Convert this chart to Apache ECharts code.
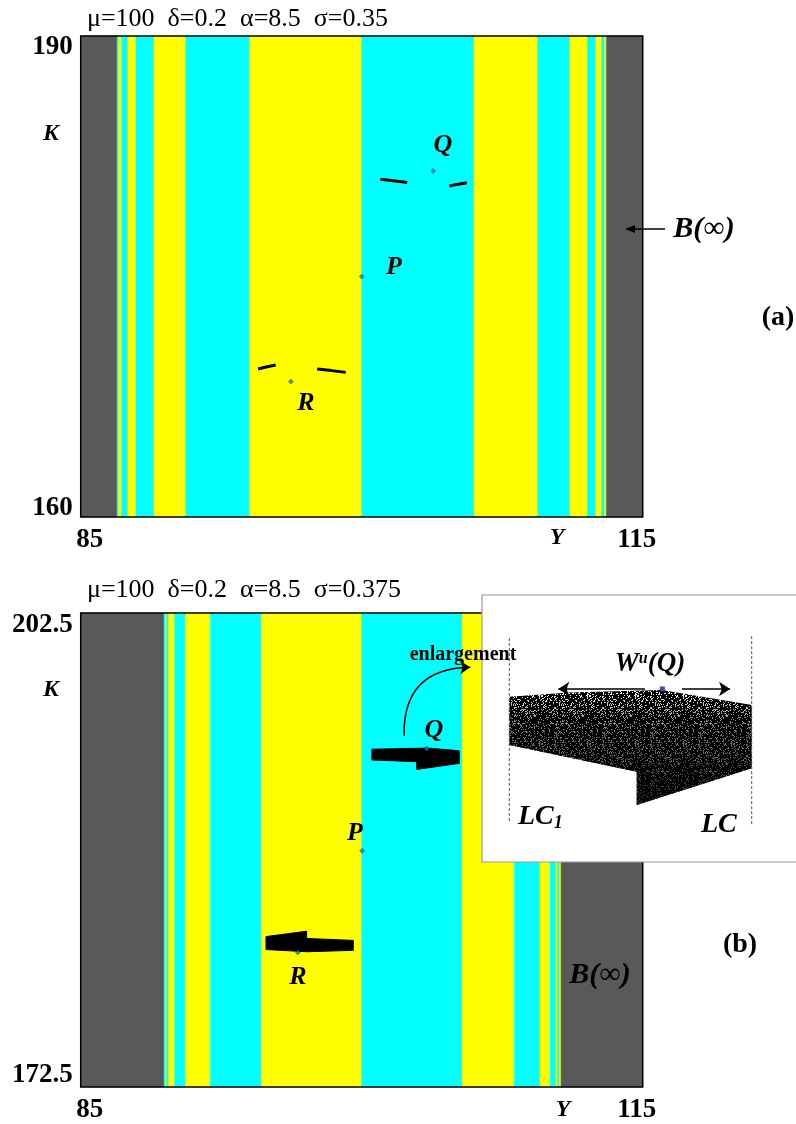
<!DOCTYPE html>
<html><head><meta charset="utf-8">
<script src="https://cdn.jsdelivr.net/npm/echarts@6/dist/echarts.min.js"></script>
<style>html,body{margin:0;padding:0;background:#fff}#c{width:796px;height:1124px}</style>
</head><body><div id="c"></div>
<script>
// ---------- data ----------
const yRange = [85, 115];
const kRangeA = [160, 190];
const kRangeB = [172.5, 202.5];
const xTickLabels = [85, 115];
const kTickLabelsA = [160, 190];
const kTickLabelsB = [172.5, 202.5];

// basin bands (Y boundaries) and their kind: G = B(inf) gray, C = cyan, Y = yellow
const edgesA = [85, 86.94, 87.03, 87.19, 87.51, 87.95, 88.91, 90.61, 94.00, 100.0, 106.0, 109.39, 111.09, 112.05, 112.49, 112.81, 112.97, 113.06, 115];
const kindsA = ['G','C','Y','C','Y','C','Y','C','Y','C','Y','C','Y','C','Y','C','Y','G'];
const edgesB = [85, 89.45, 89.52, 89.60, 89.70, 90.02, 90.58, 91.93, 94.63, 100.0, 105.37, 108.15, 109.51, 110.06, 110.36, 110.45, 110.54, 110.64, 115];
const kindsB = ['G','C','Y','C','Y','C','Y','C','Y','C','Y','C','Y','C','Y','C','Y','G'];

// fixed points Q, P, R
const pointNames = ['Q', 'P', 'R'];
const pointsA = [[103.81, 181.58], [100.0, 175.0], [96.22, 168.45]];
const pointsB = [[103.47, 193.92], [100.02, 187.45], [96.59, 181.02]];

// small attractor pieces in (a)
const piecesA = [
  [[100.99, 181.07], [101.70, 180.97], [102.43, 180.86]],
  [[104.68, 180.64], [105.15, 180.76], [105.61, 180.85]],
  [[94.47, 169.23], [94.95, 169.37], [95.41, 169.48]],
  [[97.62, 169.23], [98.40, 169.13], [99.15, 169.02]]
];
// attractor pieces in (b)
const blobsB = [
  [[100.54, 193.88], [103.50, 193.95], [105.21, 193.78], [105.21, 192.98], [102.94, 192.60], [102.94, 193.09], [100.54, 193.20]],
  [[94.89, 182.02], [97.06, 182.36], [97.06, 181.90], [99.55, 181.78], [99.55, 181.15], [97.10, 181.06], [94.89, 181.20]]
];
// "enlargement" arrow (Y, K) in (b)
const enlargeArrow = [[102.26, 194.73], [105.79, 199.06]];

// inset (enlargement of Q piece), local units 0..100
const insetShape = [[8.69, 61.91], [28.03, 63.48], [57.23, 64.42], [85.89, 58.80], [85.89, 35.09], [49.27, 21.35], [49.27, 33.82], [8.69, 43.82]];
const insetLC1 = [[8.69, 83.9], [8.69, 15.1]];
const insetLC = [[85.89, 84.6], [85.89, 13.5]];
const insetQ = [[57.42, 64.8]];
const insetArrowL = [[51.9, 64.8], [24.3, 64.8]];
const insetArrowR = [[63.7, 64.8], [79.0, 64.8]];

// ---------- style ----------
const palette = { G: '#595959', C: '#00ffff', Y: '#ffff00' };
const SERIF = '"Liberation Serif", "Times New Roman", serif';
const G1 = { left: 80.7, top: 36, width: 562, height: 481 };
const G2 = { left: 80.7, top: 613, width: 562, height: 479 };
const G3 = { left: 482, top: 595, width: 314, height: 267 };

// speckle texture (deterministic hash dither) for the enlarged cloud
function speckle() {
  const c = document.createElement('canvas');
  c.width = 48; c.height = 48;
  const ctx = c.getContext('2d');
  const img = ctx.createImageData(48, 48);
  for (let y = 0; y < 48; y++) for (let x = 0; x < 48; x++) {
    let h = (x * 374761393 + y * 668265263) >>> 0;
    h = ((h ^ (h >>> 13)) * 1274126177) >>> 0;
    h = (h ^ (h >>> 16)) >>> 0;
    const w = (h % 100) < 20 ? 255 : 0;
    const i = (y * 48 + x) * 4;
    img.data[i] = img.data[i + 1] = img.data[i + 2] = w; img.data[i + 3] = 255;
  }
  ctx.putImageData(img, 0, 0);
  return c;
}
const speckleCanvas = speckle();

function bandSeries(edges, kinds, gi, kr) {
  return {
    type: 'custom', xAxisIndex: gi, yAxisIndex: gi, z: 1, silent: true,
    data: edges.slice(0, -1).map((e, i) => [e, edges[i + 1]]),
    encode: { x: [0, 1] },
    renderItem: (params, api) => {
      const p0 = api.coord([api.value(0), kr[1]]);
      const p1 = api.coord([api.value(1), kr[0]]);
      const col = palette[kinds[params.dataIndex]];
      return { type: 'rect', shape: { x: p0[0], y: p0[1], width: p1[0] - p0[0], height: p1[1] - p0[1] },
        style: { fill: col, stroke: col, lineWidth: 0.5 } };
    }
  };
}
function polySeries(polys, gi, fill, z) {
  return {
    type: 'custom', xAxisIndex: gi, yAxisIndex: gi, z: z, silent: true,
    data: polys.map(p => [p[0][0], p[0][1]]),
    renderItem: (params, api) => ({
      type: 'polygon',
      shape: { points: polys[params.dataIndex].map(p => api.coord(p)) },
      style: { fill: fill, stroke: fill, lineWidth: 1 }
    })
  };
}
function xAxisOf(gi) {
  return {
    type: 'value', gridIndex: gi, min: yRange[0], max: yRange[1],
    splitLine: { show: false }, axisTick: { show: false }, axisLine: { show: false },
    axisLabel: {
      customValues: xTickLabels, margin: 10, color: '#000',
      formatter: v => (v === xTickLabels[0] ? '{l|' + v + '}' : '{r|' + v + '}'),
      rich: {
        l: { fontFamily: SERIF, fontSize: 27, fontWeight: 'bold', color: '#000', padding: [0, 0, 0, 18] },
        r: { fontFamily: SERIF, fontSize: 27, fontWeight: 'bold', color: '#000', padding: [0, 12, 0, 0] }
      }
    }
  };
}
function yAxisOf(gi, kr, ticks, padTop, padBot) {
  return {
    type: 'value', gridIndex: gi, min: kr[0], max: kr[1],
    splitLine: { show: false }, axisTick: { show: false }, axisLine: { show: false },
    axisLabel: {
      customValues: ticks, margin: 8, color: '#000',
      formatter: v => (v === ticks[1] ? '{t|' + v + '}' : '{b|' + v + '}'),
      rich: {
        t: { fontFamily: SERIF, fontSize: 27, fontWeight: 'bold', color: '#000', padding: [padTop, 0, 0, 0] },
        b: { fontFamily: SERIF, fontSize: 27, fontWeight: 'bold', color: '#000', padding: [0, 0, padBot, 0] }
      }
    }
  };
}

function txt(x, y, text, size, opts) {
  return {
    type: 'text', x: x, y: y, z: 20, silent: true,
    style: Object.assign({ text: text, fontFamily: SERIF, fontSize: size, fontWeight: 'bold', fontStyle: 'italic',
      fill: '#000', align: 'center', verticalAlign: 'middle' }, opts || {})
  };
}

const chart = echarts.init(document.getElementById('c'), null, { renderer: 'canvas' });
const option = {
  animation: false,
  backgroundColor: '#fff',
  grid: [
    Object.assign({ show: true, borderColor: '#000', borderWidth: 1.5, z: 3 }, G1),
    Object.assign({ show: true, borderColor: '#000', borderWidth: 1.5, z: 3 }, G2),
    Object.assign({ show: false }, G3)
  ],
  xAxis: [xAxisOf(0), xAxisOf(1),
    { type: 'value', gridIndex: 2, min: 0, max: 100, show: false }],
  yAxis: [yAxisOf(0, kRangeA, kTickLabelsA, 22, 18), yAxisOf(1, kRangeB, kTickLabelsB, 24, 24),
    { type: 'value', gridIndex: 2, min: 0, max: 100, show: false }],
  series: [
    bandSeries(edgesA, kindsA, 0, kRangeA),
    bandSeries(edgesB, kindsB, 1, kRangeB),
    ...piecesA.map(p => ({
      type: 'line', xAxisIndex: 0, yAxisIndex: 0, z: 2, silent: true, symbol: 'none',
      data: p, lineStyle: { color: '#000', width: 3 }
    })),
    polySeries(blobsB, 1, '#000', 2),
    {
      type: 'scatter', xAxisIndex: 0, yAxisIndex: 0, z: 2, silent: true, symbol: 'diamond', symbolSize: 5,
      data: pointsA, itemStyle: { color: '#2a6fb8', borderColor: '#1a3f80', borderWidth: 0.5 }
    },
    {
      type: 'scatter', xAxisIndex: 1, yAxisIndex: 1, z: 2, silent: true, symbol: 'diamond', symbolSize: 5,
      data: pointsB, itemStyle: { color: '#2a6fb8', borderColor: '#1a3f80', borderWidth: 0.5 }
    },
    {
      type: 'lines', coordinateSystem: 'cartesian2d', xAxisIndex: 1, yAxisIndex: 1, z: 2, silent: true,
      symbol: ['none', 'arrow'], symbolSize: [0, 10],
      lineStyle: { color: '#000', width: 1.5, curveness: 0.5, opacity: 1 },
      data: [{ coords: enlargeArrow }]
    },
    // inset content: speckled cloud + darkening toward bottom
    {
      type: 'custom', xAxisIndex: 2, yAxisIndex: 2, z: 10, silent: true,
      data: [insetShape[0]],
      renderItem: (params, api) => {
        const pts = insetShape.map(p => api.coord(p));
        return { type: 'group', children: [
          { type: 'polygon', shape: { points: pts }, style: { fill: { image: speckleCanvas, repeat: 'repeat' } } },
          { type: 'polygon', shape: { points: pts }, style: { fill: { type: 'linear', x: 0, y: 0, x2: 0, y2: 1, colorStops: [
            { offset: 0, color: 'rgba(0,0,0,0.0)' }, { offset: 0.25, color: 'rgba(0,0,0,0.45)' }, { offset: 1, color: 'rgba(0,0,0,0.85)' }] } } }
        ] };
      }
    },
    ...[insetLC1, insetLC].map(d => ({
      type: 'line', xAxisIndex: 2, yAxisIndex: 2, z: 10, silent: true, symbol: 'none',
      data: d, lineStyle: { color: '#4a4aa8', width: 1, type: [3, 2] }
    })),
    {
      type: 'lines', coordinateSystem: 'cartesian2d', xAxisIndex: 2, yAxisIndex: 2, z: 11, silent: true,
      symbol: ['none', 'arrow'], symbolSize: [0, 11],
      lineStyle: { color: '#000', width: 1.5, opacity: 1 },
      data: [{ coords: insetArrowL }, { coords: insetArrowR }]
    },
    {
      type: 'scatter', xAxisIndex: 2, yAxisIndex: 2, z: 11, silent: true, symbol: 'rect', symbolSize: 5,
      data: insetQ, itemStyle: { color: '#1a1a9a' }
    }
  ],
  graphic: [
    { type: 'rect', z: 5, silent: true, shape: { x: G3.left, y: G3.top, width: G3.width + 4, height: G3.height },
      style: { fill: '#fff', stroke: '#9a9a9a', lineWidth: 1.2 } },
    txt(87, 19, 'μ=100  δ=0.2  α=8.5  σ=0.35', 26, { fontWeight: 'normal', fontStyle: 'normal', align: 'left' }),
    txt(87, 590, 'μ=100  δ=0.2  α=8.5  σ=0.375', 26, { fontWeight: 'normal', fontStyle: 'normal', align: 'left' }),
    txt(51, 134, 'K', 24),
    txt(51, 690, 'K', 24),
    txt(557, 538, 'Y', 24),
    txt(563, 1110, 'Y', 24),
    txt(443, 145, 'Q', 26),
    txt(394, 267, 'P', 26),
    txt(306, 403, 'R', 26),
    txt(434, 730, 'Q', 26),
    txt(355, 833, 'P', 26),
    txt(298, 977, 'R', 26),
    txt(704, 229, 'B(∞)', 30),
    { type: 'polyline', z: 20, silent: true, shape: { points: [[665, 229], [631, 229]] }, style: { stroke: '#000', lineWidth: 1.5 } },
    { type: 'polygon', z: 20, silent: true, shape: { points: [[625, 229], [635, 225], [635, 233]] }, style: { fill: '#000' } },
    txt(778, 318, '(a)', 28, { fontStyle: 'normal' }),
    txt(600, 975, 'B(∞)', 30),
    txt(740, 945, '(b)', 28, { fontStyle: 'normal' }),
    txt(463, 655, 'enlargement', 20, { fontStyle: 'normal' }),
    { type: 'text', x: 650, y: 664, z: 20, silent: true,
      style: { text: '{i|W}{s|u}{i|(Q)}', align: 'center', verticalAlign: 'middle', fill: '#000',
        rich: { i: { fontFamily: SERIF, fontSize: 27, fontWeight: 'bold', fontStyle: 'italic', fill: '#000' },
                s: { fontFamily: SERIF, fontSize: 16, fontWeight: 'bold', fontStyle: 'italic', fill: '#000', padding: [0, 0, 10, 0] } } } },
    { type: 'text', x: 518, y: 817, z: 20, silent: true,
      style: { text: '{i|LC}{s|1}', align: 'left', verticalAlign: 'middle', fill: '#000',
        rich: { i: { fontFamily: SERIF, fontSize: 28, fontWeight: 'bold', fontStyle: 'italic', fill: '#000' },
                s: { fontFamily: SERIF, fontSize: 18, fontWeight: 'bold', fontStyle: 'italic', fill: '#000', padding: [12, 0, 0, 0] } } } },
    { type: 'text', x: 701, y: 825, z: 20, silent: true,
      style: { text: 'LC', align: 'left', verticalAlign: 'middle', fill: '#000',
        fontFamily: SERIF, fontSize: 28, fontWeight: 'bold', fontStyle: 'italic' } }
  ]
};
chart.setOption(option);
</script></body></html>
